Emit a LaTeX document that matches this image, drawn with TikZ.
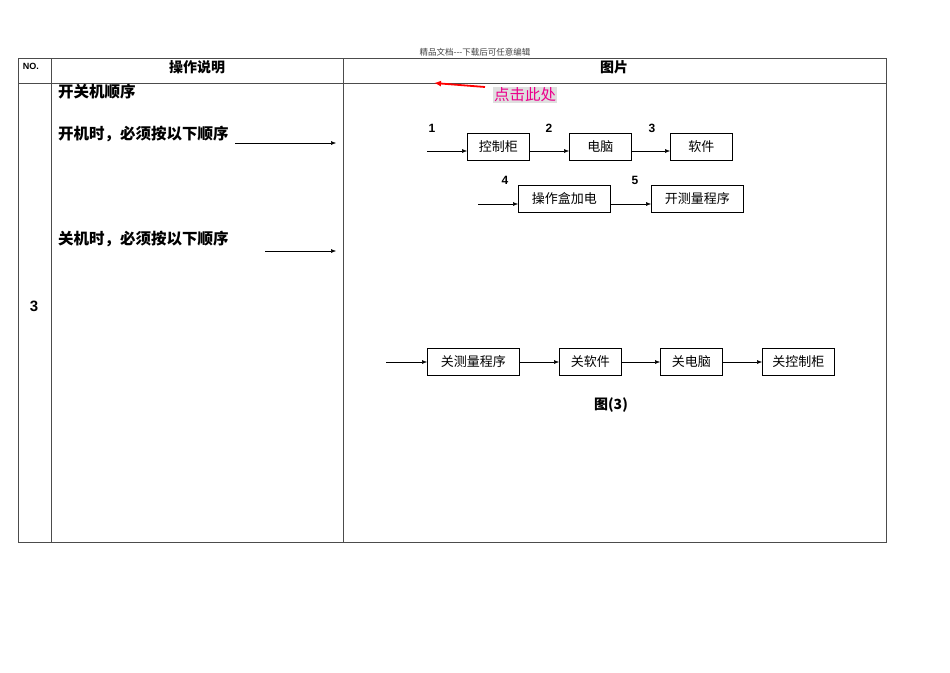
\documentclass[tikz,border=0pt]{standalone}
\usepackage{fontspec}
\setmainfont{Liberation Sans}
\newfontfamily\cjk{Noto Sans CJK SC}
\usetikzlibrary{arrows.meta}
\begin{document}
\begin{tikzpicture}[x=1pt,y=-1pt,
  bx/.style={draw,line width=0.6pt,anchor=north west,minimum height=27pt,inner sep=0pt,font=\cjk\fontsize{13}{15}\selectfont},
  ar/.style={-{Latex[length=5pt,width=4pt]},line width=0.5pt},
  num/.style={font=\bfseries\fontsize{12}{14}\selectfont},
  hd/.style={font=\cjk\bfseries\fontsize{14}{16}\selectfont},
  lt/.style={font=\cjk\bfseries\fontsize{15.5}{17}\selectfont,anchor=west,inner sep=0pt}]
\useasboundingbox (0,0) rectangle (950,672);
\draw[line width=0.6pt,gray!60!black] (18,58) rectangle (886,542) (18,83)--(886,83) (51,58)--(51,542) (343,58)--(343,542);
\node[font=\cjk\fontsize{8.5}{10}\selectfont,text=gray!50!black] (top) at (475,52) {精品文档---下载后可任意编辑};
\node[font=\bfseries\fontsize{9}{10}\selectfont] (no) at (31,66) {NO.};
\node[hd] (h1) at (197,67) {操作说明};
\node[hd] (h2) at (614,67) {图片};
\node[font=\bfseries\fontsize{15}{17}\selectfont] (n3) at (34,306) {3};
\node[lt] (t1) at (58,92) {开关机顺序};
\node[lt] (t2) at (58,134) {开机时，必须按以下顺序};
\node[lt] (t3) at (58,239) {关机时，必须按以下顺序};
\coordinate (l1) at (235,143); \coordinate (l1e) at (336,143);
\coordinate (l2) at (265,251); \coordinate (l2e) at (336,251);
\draw[ar] (l1)--(l1e); \draw[ar] (l2)--(l2e);
\coordinate (ra) at (485,87); \coordinate (rb) at (434,83);
\draw[red,line width=1.8pt,-{Latex[length=7pt,width=6pt]}] (ra)--(rb);
\node[fill=gray!25,text=magenta,inner sep=1pt,font=\cjk\fontsize{15.5}{17}\selectfont] (click) at (525,95) {点击此处};
\node[bx,minimum width=62pt] (b1) at (467,133) {控制柜};
\node[bx,minimum width=62pt] (b2) at (569,133) {电脑};
\node[bx,minimum width=62pt] (b3) at (670,133) {软件};
\node[bx,minimum width=92pt] (b4) at (518,185) {操作盒加电};
\node[bx,minimum width=92pt] (b5) at (651,185) {开测量程序};
\node[bx,minimum width=92pt] (c1) at (427,348) {关测量程序};
\node[bx,minimum width=62pt] (c2) at (559,348) {关软件};
\node[bx,minimum width=62pt] (c3) at (660,348) {关电脑};
\node[bx,minimum width=72pt] (c4) at (762,348) {关控制柜};
\coordinate (s1) at (427,151); \coordinate (s4) at (478,204); \coordinate (s6) at (386,362);
\draw[ar] (s1)--(s1-|b1.west);
\draw[ar] (b1.east|-s1)--(s1-|b2.west);
\draw[ar] (b2.east|-s1)--(s1-|b3.west);
\draw[ar] (s4)--(s4-|b4.west);
\draw[ar] (b4.east|-s4)--(s4-|b5.west);
\draw[ar] (s6)--(s6-|c1.west);
\draw[ar] (c1.east|-s6)--(s6-|c2.west);
\draw[ar] (c2.east|-s6)--(s6-|c3.west);
\draw[ar] (c3.east|-s6)--(s6-|c4.west);
\node[num] (k1) at (432,128) {1};
\node[num] (k2) at (549,128) {2};
\node[num] (k3) at (652,128) {3};
\node[num] (k4) at (505,180) {4};
\node[num] (k5) at (635,180) {5};
\node[font=\cjk\bfseries\fontsize{14}{16}\selectfont] (fig) at (611,405) {图(3)};
\end{tikzpicture}
\end{document}
